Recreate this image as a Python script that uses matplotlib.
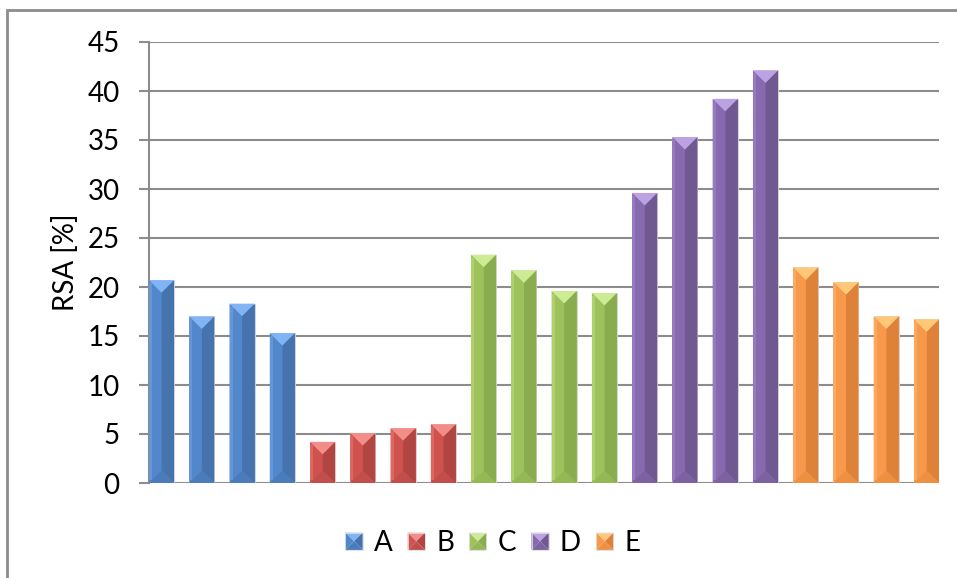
import matplotlib
matplotlib.use("Agg")
import matplotlib.pyplot as plt
from matplotlib.patches import Polygon, Rectangle
from matplotlib.legend_handler import HandlerBase

plt.rcParams['font.family'] = ['Lato', 'DejaVu Sans']

groups = ['A', 'B', 'C', 'D', 'E']
values_a = [20.7, 17.0, 18.3, 15.3]
values_b = [4.2, 5.1, 5.6, 6.0]
values_c = [23.3, 21.7, 19.6, 19.4]
values_d = [29.6, 35.3, 39.2, 42.1]
values_e = [22.0, 20.5, 17.0, 16.7]
series = [values_a, values_b, values_c, values_d, values_e]
y_ticks = [0, 5, 10, 15, 20, 25, 30, 35, 40, 45]

# shades per group: left face, right face, top bevel, bottom bevel, edge strip
shades = {
    'A': ('#5287CB', '#4672AE', '#80B4F4', '#4A7CBB', '#6597D8'),
    'B': ('#D0524F', '#B04542', '#F28E8A', '#C24E4B', '#DC6864'),
    'C': ('#9DC25C', '#89AC4E', '#CDEB94', '#95B856', '#AED16E'),
    'D': ('#8669AE', '#705891', '#BCA2E3', '#7C62A1', '#967AC0'),
    'E': ('#F8984A', '#DD8238', '#FFC878', '#EE9042', '#FBA860'),
}

fig = plt.figure(figsize=(9.57, 5.78), dpi=100)
ax = fig.add_axes([149 / 957, 95 / 578, 790 / 957, 441 / 578])

n_total = sum(len(s) for s in series)
w = 0.621
ax.set_xlim(-w / 2, n_total - 1 + w / 2)
ax.set_ylim(0, 45)

# y size of a 45-degree bevel, worked out from the axes scale
p0 = ax.transData.transform((0, 0))
p1 = ax.transData.transform((1, 1))
sx, sy = p1[0] - p0[0], p1[1] - p0[1]
hw = w / 2
depth = hw * sx / sy
strip = 3.0 / sx


def bevel_bar(c, h, cols):
    left, right, top, bottom, edge = cols
    d = min(depth, h / 2)
    ax.add_patch(Polygon([(c, d), (c + hw, 0), (c + hw, h), (c, h - d)],
                         closed=True, fc=right, ec='none', zorder=3))
    ax.add_patch(Polygon([(c - hw, 0), (c, d), (c, h - d), (c - hw, h)],
                         closed=True, fc=left, ec='none', zorder=3))
    ax.add_patch(Polygon([(c - hw, strip * d / hw), (c - hw + strip, strip * d / hw),
                          (c - hw + strip, h - strip * d / hw), (c - hw, h - strip * d / hw)],
                         closed=True, fc=edge, ec='none', zorder=3))
    ax.add_patch(Polygon([(c - hw, h), (c + hw, h), (c, h - d)],
                         closed=True, fc=top, ec='none', zorder=3))
    ax.add_patch(Polygon([(c - hw, 0), (c + hw, 0), (c, d)],
                         closed=True, fc=bottom, ec='none', zorder=3))


pos = 0
handles = []
for name, vals in zip(groups, series):
    xs = list(range(pos, pos + len(vals)))
    cols = shades[name]
    bars = ax.bar(xs, vals, width=w, color=cols[0], edgecolor='#D8D8D8',
                  linewidth=0.6, zorder=2, label=name)
    for x, v in zip(xs, vals):
        bevel_bar(x, v, cols)
    handles.append(bars)
    pos += len(vals)

ax.set_yticks(y_ticks)
ax.set_xticks([])
ax.yaxis.grid(True, color='#8C8C8C', linewidth=1.5)
ax.set_axisbelow(True)
for side in ['top', 'right']:
    ax.spines[side].set_visible(False)
ax.spines['bottom'].set_visible(False)
ax.spines['left'].set_color('#8C8C8C')
ax.spines['left'].set_linewidth(1.5)
ax.tick_params(axis='y', direction='out', length=7.2, width=1.5, color='#8C8C8C',
               labelsize=20, pad=14)
ax.set_ylabel('RSA [%]', fontsize=20, labelpad=6)


class BevelSquare(HandlerBase):
    def create_artists(self, legend, orig_handle, xdescent, ydescent,
                       width, height, fontsize, trans):
        left, right, top, bottom, edge = shades[orig_handle.get_label()]
        s = min(width, height)
        x0 = -xdescent + (width - s) / 2
        y0 = -ydescent + (height - s) / 2
        cx, cy = x0 + s / 2, y0 + s / 2
        c = [(x0, y0), (x0 + s, y0), (x0 + s, y0 + s), (x0, y0 + s)]
        faces = [(c[3], c[2], top), (c[0], c[3], left), (c[2], c[1], right),
                 (c[1], c[0], bottom)]
        arts = []
        for a, b, col in faces:
            p = Polygon([a, b, (cx, cy)], closed=True, fc=col, ec='none',
                        transform=trans)
            arts.append(p)
        arts.append(Rectangle((x0, y0), s, s, fill=False, ec='#DDDDDD', lw=0.6,
                              transform=trans))
        return arts


ax.legend(handles, groups, handler_map={type(handles[0]): BevelSquare()},
          loc='center', bbox_to_anchor=(493 / 957, 1 - 543 / 578),
          bbox_transform=fig.transFigure, ncol=5, frameon=False, fontsize=20,
          handlelength=0.62, handleheight=0.75, handletextpad=0.4,
          columnspacing=0.55)

# chart frame, cut off at the right and bottom
fig.patches.append(Rectangle((7 / 957, -0.1), 1.2, 1.1 - 10 / 578, fill=False,
                             ec='#8C8C8C', lw=2, transform=fig.transFigure))

fig.savefig('out.png', dpi=100)
